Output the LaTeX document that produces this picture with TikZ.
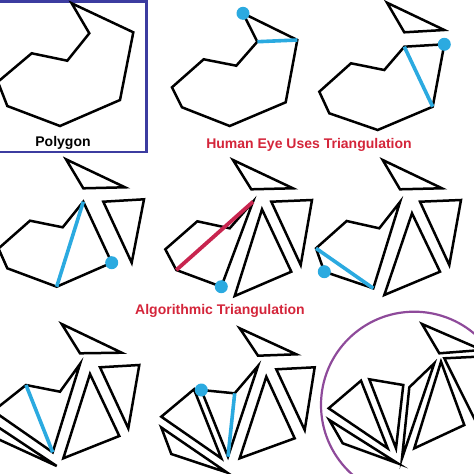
\documentclass[tikz,border=0pt]{standalone}
\usepackage{fontspec}
\setmainfont{Liberation Sans}
\definecolor{dotblue}{RGB}{43,170,224}
\definecolor{cutred}{RGB}{200,37,79}
\definecolor{labelred}{RGB}{212,37,58}
\definecolor{boxblue}{RGB}{60,60,160}
\definecolor{ringpurple}{RGB}{142,74,154}
\begin{document}
\begin{tikzpicture}[x=1pt,y=-1pt,
	edge/.style={line width=2.5pt,line join=miter},
	diag/.style={line width=3.6pt,color=dotblue},
	cut/.style={line width=3.8pt,color=cutred},
	caption/.style={font=\fontsize{14}{16}\selectfont\bfseries,inner sep=0pt,anchor=base}]
	\useasboundingbox (0,0) rectangle (474,474);
	\clip (0,0) rectangle (474,474);
	\coordinate (D2) at (243,13.3);
	\coordinate (E2) at (257.3,41.7);
	\coordinate (F2) at (297.3,40);
	\coordinate (D3) at (444.3,44.3);
	\coordinate (E3) at (404.3,46.7);
	\coordinate (F3) at (432.7,106.7);
	\coordinate (D4) at (111.7,262.7);
	\coordinate (E4) at (83.3,201.7);
	\coordinate (F4) at (56.7,286.7);
	\coordinate (D5) at (221.3,286.7);
	\coordinate (E5) at (253,201.7);
	\coordinate (F5) at (176.3,270);
	\coordinate (D6) at (324.3,271.7);
	\coordinate (E6) at (316,248.3);
	\coordinate (F6) at (373.3,288.3);
	\coordinate (D7) at (-6.7,411);
	\coordinate (E7) at (26,385);
	\coordinate (F7) at (52.7,452.3);
	\coordinate (D8) at (201.3,390);
	\coordinate (E8) at (234.7,393.3);
	\coordinate (F8) at (228,456.7);
	\coordinate (C9) at (414.2,404.9);
	\draw[boxblue,line width=2.7pt] (-5,1.3) rectangle (146.7,152);
	\draw[edge] (71.7,3.3) -- (89.3,33.3) -- (67.3,60.7) -- (31.7,53.3) -- (-2.1,81.8) -- (7.3,106) -- (60,126) -- (120,100) -- (133.3,32.3) -- cycle;
	\node[caption] (polygonlabel) at (63,146) {Polygon};
	\draw[edge] (D2) -- (E2) -- (236.3,65.7) -- (203.7,59.3) -- (172,87.3) -- (182,107.3) -- (229.7,126) -- (285.7,102.3) -- (F2) -- cycle;
	\draw[diag] (E2) -- (F2);
	\fill[dotblue] (D2) circle(6.5);
	\draw[edge] (387,2.7) -- (444.3,30) -- (404.3,32.3) -- cycle;
	\draw[edge] (E3) -- (D3) -- (F3) -- (377.7,130) -- (329.3,113.3) -- (319.3,91.7) -- (351,63.3) -- (384.3,70) -- cycle;
	\draw[diag] (E3) -- (F3);
	\fill[dotblue] (D3) circle(6.5);
	\node[caption,text=labelred] (humanlabel) at (309,148) {Human Eye Uses Triangulation};
	\draw[edge] (66,159.3) -- (125,187.3) -- (83.3,188.3) -- cycle;
	\draw[edge] (103.3,201.7) -- (144,199.3) -- (131.7,262.7) -- cycle;
	\draw[edge] (E4) -- (D4) -- (F4) -- (7.3,268.3) -- (-1.5,248.5) -- (30,220.7) -- (62.7,227.3) -- cycle;
	\draw[diag] (E4) -- (F4);
	\fill[dotblue] (D4) circle(6.5);
	\draw[edge] (233,160) -- (293,188.3) -- (251.3,189.3) -- cycle;
	\draw[edge] (271.3,201.7) -- (312,200) -- (300.7,265) -- cycle;
	\draw[edge] (262,209.3) -- (291.3,271.7) -- (234.7,296) -- cycle;
	\draw[edge] (E5) -- (D5) -- (F5) -- (165.3,249.3) -- (197.3,221.3) -- (229.7,228.3) -- cycle;
	\draw[cut] (E5) -- (F5);
	\fill[dotblue] (D5) circle(6.5);
	\draw[edge] (382.7,160) -- (442,188.3) -- (400,189.3) -- cycle;
	\draw[edge] (420,201.7) -- (461,200) -- (449.3,265) -- cycle;
	\draw[edge] (412,213.3) -- (440,271.7) -- (384.3,295) -- cycle;
	\draw[edge] (400,202) -- (379.3,228.3) -- (346.7,221) -- (E6) -- (D6) -- (F6) -- cycle;
	\draw[diag] (E6) -- (F6);
	\fill[dotblue] (D6) circle(6.5);
	\node[caption,text=labelred] (algolabel) at (220,314.5) {Algorithmic Triangulation};
	\draw[edge] (61.7,324) -- (121.7,352.7) -- (80,353.3) -- cycle;
	\draw[edge] (100,367.3) -- (139.3,365) -- (128.3,428.3) -- cycle;
	\draw[edge] (90,374) -- (119.3,436) -- (63.3,458.3) -- cycle;
	\draw[edge] (80,364) -- (60,391.7) -- (E7) -- (D7) -- (F7) -- cycle;
	\draw[edge] (-10,421.7) -- (56.7,466) -- (-10,435.4) -- cycle;
	\draw[diag] (E7) -- (F7);
	\fill[dotblue] (D7) circle(6.5);
	\draw[edge] (239.7,328.3) -- (296.3,354.3) -- (258,355.7) -- cycle;
	\draw[edge] (276.3,369.3) -- (314.7,367.3) -- (304.7,430) -- cycle;
	\draw[edge] (266.3,376.7) -- (294.7,438.3) -- (239.7,458.3) -- cycle;
	\draw[edge] (D8) -- (E8) -- (258,366) -- (F8) -- cycle;
	\draw[edge] (194,389.3) -- (161.3,416.7) -- (221.3,458.3) -- cycle;
	\draw[edge] (161.3,427.5) -- (171.3,454) -- (227,472.5) -- cycle;
	\draw[diag] (E8) -- (F8);
	\fill[dotblue] (D8) circle(6.5);
	\draw[ringpurple,line width=2.2pt] (C9) circle(93.2);
	\draw[edge] (422,324) -- (482,350) -- (439.3,353.3) -- cycle;
	\draw[edge] (444.3,358.3) -- (492,356) -- (480,430) -- cycle;
	\draw[edge] (441,361.7) -- (464.3,425) -- (414.3,448.3) -- cycle;
	\draw[edge] (434.3,363.3) -- (409.3,387.3) -- (402,458.3) -- cycle;
	\draw[edge] (369.3,379.3) -- (403.3,385) -- (396,448.3) -- cycle;
	\draw[edge] (361,380.7) -- (328.7,408.3) -- (387.7,448.3) -- cycle;
	\draw[edge] (329.3,420) -- (342.7,443.3) -- (397.7,463.3) -- cycle;
\end{tikzpicture}
\end{document}
